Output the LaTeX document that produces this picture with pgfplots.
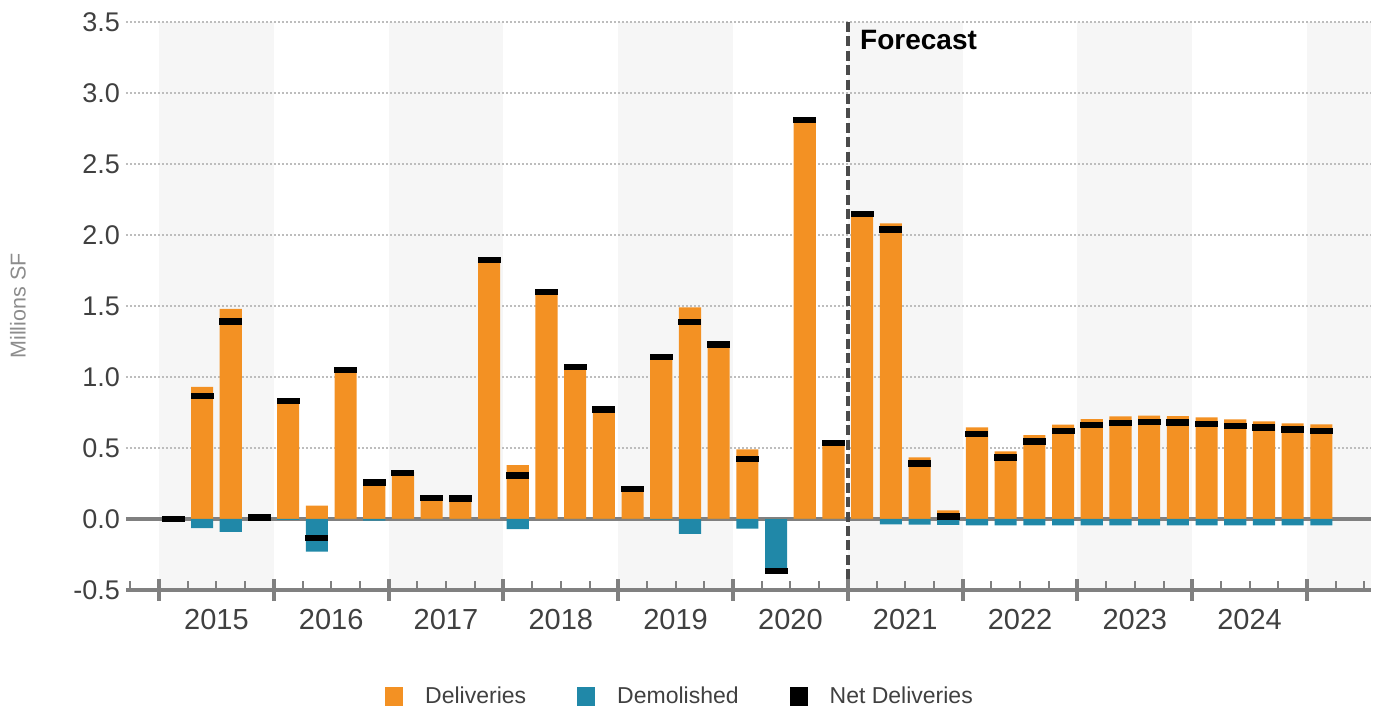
\documentclass[border=0pt]{standalone}
\usepackage{fontspec}
\setmainfont{Liberation Sans}
\usepackage{pgfplots}
\usepackage{pgfplotstable}
\pgfplotsset{compat=1.18}
\definecolor{cDel}{HTML}{F39123}
\definecolor{cDem}{HTML}{2088A8}
\definecolor{cAx}{HTML}{808080}
\definecolor{cTxt}{HTML}{404040}
\definecolor{cShade}{HTML}{F6F6F6}
\definecolor{cGrid}{HTML}{BDBDBD}
\definecolor{cDash}{HTML}{4A4A4A}
\definecolor{cLab}{HTML}{8C8C8C}

\pgfdeclareplotmark{netmark}{%
  \pgfpathrectangle{\pgfpoint{-5.75pt}{-1.6pt}}{\pgfpoint{11.5pt}{3.2pt}}%
  \pgfusepathqfill}

\pgfplotsset{legsq/.style={legend image code/.code={\fill[##1, draw=none] (0pt,-5pt) rectangle (9pt,5pt);}}}

\pgfplotstableread{
x del dem net
0 0.005 0.000 0.000
1 0.930 -0.065 0.865
2 1.480 -0.090 1.390
3 0.012 0.000 0.010
4 0.840 -0.006 0.832
5 0.095 -0.230 -0.135
6 1.055 0.000 1.050
7 0.270 -0.012 0.258
8 0.330 0.000 0.325
9 0.150 0.000 0.147
10 0.148 0.000 0.143
11 1.830 0.000 1.825
12 0.380 -0.072 0.305
13 1.600 0.000 1.597
14 1.075 0.000 1.070
15 0.775 0.000 0.770
16 0.215 0.000 0.210
17 1.145 -0.005 1.140
18 1.490 -0.105 1.387
19 1.235 0.000 1.230
20 0.490 -0.068 0.423
21 0.000 -0.365 -0.365
22 2.815 0.000 2.810
23 0.540 0.000 0.535
24 2.150 0.000 2.146
25 2.082 -0.037 2.040
26 0.434 -0.040 0.392
27 0.060 -0.042 0.018
28 0.646 -0.045 0.600
29 0.477 -0.045 0.432
30 0.590 -0.045 0.545
31 0.664 -0.045 0.620
32 0.704 -0.045 0.660
33 0.723 -0.045 0.678
34 0.728 -0.045 0.683
35 0.724 -0.045 0.679
36 0.716 -0.045 0.671
37 0.702 -0.045 0.657
38 0.688 -0.045 0.643
39 0.674 -0.045 0.629
40 0.666 -0.045 0.621
}\data

\begin{document}
\begin{tikzpicture}
\begin{axis}[
  scale only axis, width=622.5pt, height=284pt,
  xmin=-1.65, xmax=41.73, ymin=-0.5, ymax=3.5,
  axis on top,
  axis x line*=bottom, axis y line*=left,
  y axis line style={draw=none},
  x axis line style={-, draw=cAx, line width=2pt},
  ytick={-0.5,0,...,3.5},
  ytick style={draw=none},
  /pgf/number format/assume math mode=true,
  yticklabel style={/pgf/number format/.cd, fixed, fixed zerofill, precision=1, /tikz/.cd,
     font=\fontsize{13.5}{16}\selectfont, text=cTxt, xshift=6pt},
  xtick={-0.5,3.5,...,39.5},
  xticklabels={},
  minor xtick={-1.5,-0.5,...,41.5},
  tick align=center,
  major tick length=11pt,
  minor tick length=4.5pt,
  xtick style={draw=cAx, line width=2pt},
  minor x tick style={draw=cAx, line width=1pt, yshift=2.25pt},
  extra x ticks={1.5,5.5,...,37.5},
  extra x tick labels={2015,2016,2017,2018,2019,2020,2021,2022,2023,2024},
  extra x tick style={major tick length=0pt, tick style={draw=none},
     xticklabel style={font=\fontsize{14.5}{17}\selectfont, text=cTxt, yshift=-6pt}},
  ylabel={Millions SF},
  ylabel style={at={(axis description cs:-0.0867,0.5)}, anchor=center,
     font=\fontsize{10.75}{13}\selectfont, text=cLab},
  legend style={at={(axis description cs:0.4458,-0.188)}, anchor=center, draw=none, fill=none,
     legend columns=3, font=\fontsize{11.5}{14}\selectfont, text=cTxt,
     /tikz/every odd column/.append style={column sep=9pt},
     /tikz/every even column/.append style={column sep=23.5pt}},
  legend cell align=left,
]
\addlegendimage{legsq, fill=cDel}\addlegendentry{Deliveries}
\addlegendimage{legsq, fill=cDem}\addlegendentry{Demolished}
\addlegendimage{legsq, fill=black}\addlegendentry{Net Deliveries}

% alternating year shading
\fill[cShade] (axis cs:-0.5,-0.5) rectangle (axis cs:3.5,3.5);
\fill[cShade] (axis cs:7.5,-0.5) rectangle (axis cs:11.5,3.5);
\fill[cShade] (axis cs:15.5,-0.5) rectangle (axis cs:19.5,3.5);
\fill[cShade] (axis cs:23.5,-0.5) rectangle (axis cs:27.5,3.5);
\fill[cShade] (axis cs:31.5,-0.5) rectangle (axis cs:35.5,3.5);
\fill[cShade] (axis cs:39.5,-0.5) rectangle (axis cs:41.73,3.5);

% dotted grid
\pgfplotsinvokeforeach{0.5,1.0,1.5,2.0,2.5,3.0,3.5}{
  \draw[cGrid, line width=0.6pt, dash pattern=on 0.8pt off 1.2pt] (axis cs:-1.65,#1) -- (axis cs:41.73,#1);
}
% zero line
\draw[cAx, line width=1.6pt] (axis cs:-1.65,0) -- (axis cs:41.73,0);

\addplot[ybar, bar width=0.77, bar shift=0pt, fill=cDel, draw=none, forget plot] table[x=x,y=del]{\data};
\addplot[ybar, bar width=0.77, bar shift=0pt, fill=cDem, draw=none, forget plot] table[x=x,y=dem]{\data};
\addplot[only marks, mark=netmark, fill=black, draw=none, forget plot] table[x=x,y=net]{\data};

% forecast divider
\draw[cDash, line width=1.7pt, dash pattern=on 5pt off 2.2pt] (axis cs:23.5,3.5) -- (axis cs:23.5,-0.5);
\node[anchor=west, inner sep=0pt, xshift=6pt, font=\fontsize{14}{16}\selectfont\bfseries, text=black] at (axis cs:23.5,3.37) {Forecast};
\end{axis}
\pgfresetboundingbox
\path[use as bounding box] (current axis.south west) ++(-63pt,-58pt) rectangle ++(688.5pt,353pt);
\end{tikzpicture}
\end{document}
